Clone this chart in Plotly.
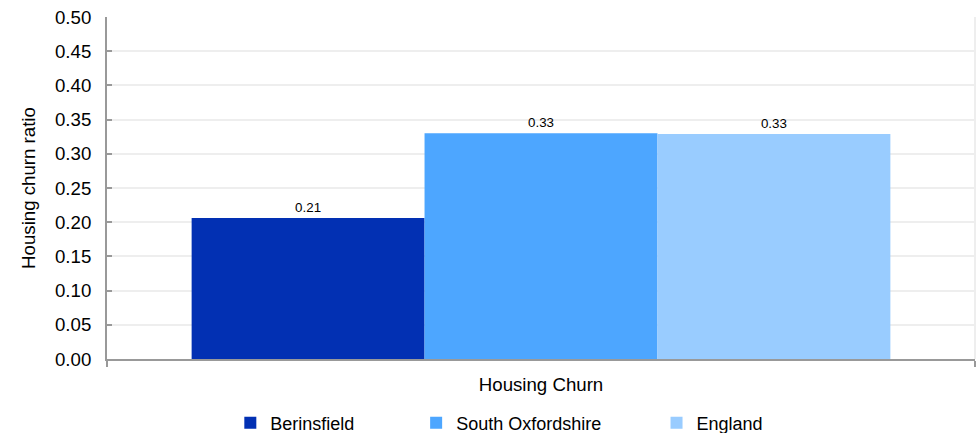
import plotly.graph_objects as go

categories = ["Housing Churn"]
series_names = ["Berinsfield", "South Oxfordshire", "England"]
series_values = [[0.206], [0.330], [0.329]]
series_labels = ["0.21", "0.33", "0.33"]
colors = ["#0230B3", "#4DA6FF", "#99CCFF"]
y_ticks = [0.0, 0.05, 0.10, 0.15, 0.20, 0.25, 0.30, 0.35, 0.40, 0.45, 0.50]

FONT = "Liberation Sans, Arial, sans-serif"
FS = 18.67

fig = go.Figure()
legend_ids = ["legend", "legend2", "legend3"]
legend_x = [0.2355, 0.4255, 0.6713]
for i, name in enumerate(series_names):
    fig.add_trace(go.Bar(
        x=categories, y=series_values[i], name=name,
        marker=dict(color=colors[i], line=dict(width=0)),
        text=[series_labels[i]], textposition="outside",
        textfont=dict(size=13.33, color="#000000", family=FONT),
        cliponaxis=False,
        legend=legend_ids[i],
    ))

legend_common = dict(orientation="h", yanchor="middle", xanchor="left",
                     xref="container", yref="container",
                     font=dict(size=18, color="#000000", family=FONT),
                     bgcolor="rgba(0,0,0,0)", itemwidth=30)
layout_legends = {}
for lid, lx in zip(legend_ids, legend_x):
    layout_legends[lid] = dict(legend_common, x=lx, y=0.0231)

fig.update_layout(
    width=978, height=433,
    margin=dict(l=107, r=3, t=17, b=74),
    paper_bgcolor="white", plot_bgcolor="white",
    barmode="group", bargap=0.195, bargroupgap=0,
    font=dict(family=FONT, color="#000000"),
    showlegend=True,
    **layout_legends,
    xaxis=dict(
        automargin=False,
        showgrid=False, showline=True, linecolor="#999999", linewidth=2,
        ticks="outside", tickson="boundaries", ticklen=6, tickcolor="#999999", tickwidth=2,
        tickfont=dict(size=FS, color="#000000", family=FONT),
        ticklabelstandoff=8,
    ),
    yaxis=dict(
        automargin=False,
        range=[0, 0.5], tickvals=y_ticks, tickformat=".2f",
        showgrid=True, gridcolor="#EEEEEE", gridwidth=2,
        showline=True, linecolor="#999999", linewidth=2,
        ticks="inside", ticklen=5, tickcolor="#999999", tickwidth=2,
        tickfont=dict(size=FS, color="#000000", family=FONT),
        ticklabelstandoff=10,
        title=dict(text="Housing churn ratio", font=dict(size=FS, color="#000000", family=FONT), standoff=14),
        zeroline=False,
    ),
    shapes=[dict(type="line", xref="paper", yref="paper", x0=1, x1=1, y0=0, y1=1,
                 line=dict(color="#EEEEEE", width=2))],
)

fig.write_html("out.html", config={"displayModeBar": False},
               post_script="document.body.style.margin='0';")
